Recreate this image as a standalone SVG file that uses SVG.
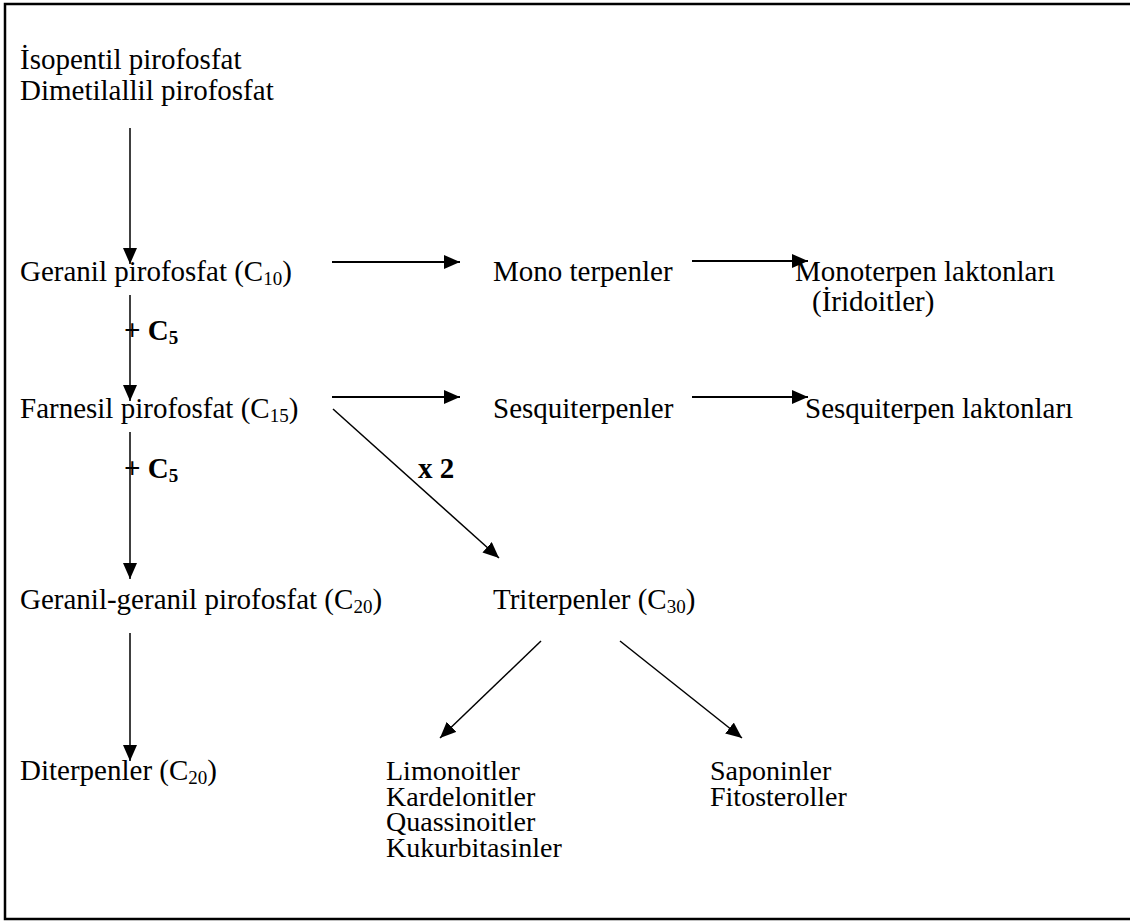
<svg xmlns="http://www.w3.org/2000/svg" width="1130" height="922" viewBox="0 0 1130 922">
<style>
text{font-family:"Liberation Serif","Times New Roman",serif;font-size:29px;fill:#000}
.b{font-weight:bold}
.sub{font-size:19px}
.li{font-size:28px}
.ln{stroke:#000;stroke-width:1.5;fill:none}
.lt{stroke:#000;stroke-width:2.2;fill:none}
</style>
<defs>
<marker id="ahb" markerWidth="16" markerHeight="14" refX="16" refY="7" orient="auto" markerUnits="userSpaceOnUse" viewBox="0 0 16 14">
<path d="M0,0 L16,7 L0,14 Z" fill="#000"/>
</marker>
</defs>
<rect x="5" y="4" width="1130" height="915" fill="#fff" stroke="#000" stroke-width="2.5"/>
<g id="connectors">
<line class="ln" x1="130" y1="128" x2="130" y2="264" marker-end="url(#ahb)"/>
<line class="ln" x1="130" y1="295" x2="130" y2="401" marker-end="url(#ahb)"/>
<line class="ln" x1="130" y1="432" x2="130" y2="579" marker-end="url(#ahb)"/>
<line class="ln" x1="130" y1="633" x2="130" y2="761" marker-end="url(#ahb)"/>
<line class="lt" x1="332" y1="262" x2="460" y2="262" marker-end="url(#ahb)"/>
<line class="lt" x1="692" y1="261" x2="808" y2="261" marker-end="url(#ahb)"/>
<line class="lt" x1="332" y1="397" x2="460" y2="397" marker-end="url(#ahb)"/>
<line class="lt" x1="692" y1="397" x2="808" y2="397" marker-end="url(#ahb)"/>
<line class="ln" x1="333" y1="409" x2="499" y2="558" marker-end="url(#ahb)"/>
<line class="ln" x1="541" y1="641" x2="440" y2="738" marker-end="url(#ahb)"/>
<line class="ln" x1="620" y1="641" x2="742" y2="738" marker-end="url(#ahb)"/>
</g>
<g id="n-ipp"><text x="20" y="69">İsopentil pirofosfat</text><text x="20" y="100">Dimetilallil pirofosfat</text></g>
<g id="n-gpp"><text x="20" y="281">Geranil pirofosfat (C<tspan class="sub" dy="4">10</tspan><tspan dy="-4">)</tspan></text></g>
<g id="n-mono"><text x="493" y="281">Mono terpenler</text></g>
<g id="n-monolak"><text x="795" y="281">Monoterpen laktonları</text><text x="812" y="311">(İridoitler)</text></g>
<g id="l-c5a"><text class="b" x="124" y="340">+ C<tspan class="sub" dy="4">5</tspan></text></g>
<g id="n-fpp"><text x="20" y="418">Farnesil pirofosfat (C<tspan class="sub" dy="4">15</tspan><tspan dy="-4">)</tspan></text></g>
<g id="n-sesq"><text x="493" y="418">Sesquiterpenler</text></g>
<g id="n-sesqlak"><text x="805" y="418">Sesquiterpen laktonları</text></g>
<g id="l-c5b"><text class="b" x="124" y="478">+ C<tspan class="sub" dy="4">5</tspan></text></g>
<g id="l-x2"><text class="b" x="418" y="478">x 2</text></g>
<g id="n-ggpp"><text x="20" y="609">Geranil-geranil pirofosfat (C<tspan class="sub" dy="4">20</tspan><tspan dy="-4">)</tspan></text></g>
<g id="n-tri"><text x="493" y="609">Triterpenler (C<tspan class="sub" dy="4">30</tspan><tspan dy="-4">)</tspan></text></g>
<g id="n-di"><text x="20" y="780">Diterpenler (C<tspan class="sub" dy="4">20</tspan><tspan dy="-4">)</tspan></text></g>
<g id="n-limo"><text class="li" x="386" y="780">Limonoitler</text><text class="li" x="386" y="806">Kardelonitler</text><text class="li" x="386" y="831">Quassinoitler</text><text class="li" x="386" y="857">Kukurbitasinler</text></g>
<g id="n-sapo"><text class="li" x="710" y="780">Saponinler</text><text class="li" x="710" y="806">Fitosteroller</text></g>
</svg>
